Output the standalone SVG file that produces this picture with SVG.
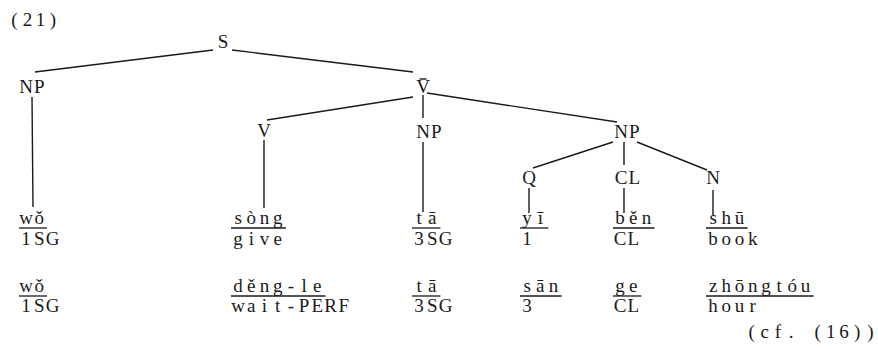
<svg xmlns="http://www.w3.org/2000/svg" width="878" height="349" viewBox="0 0 878 349">
  <style>
    /* typewriter look: every character is centred in its own 13.2px cell */
    text { font-family: "Liberation Serif", "Times New Roman", serif; font-size: 19px; fill: #1a1a1a; text-anchor: middle; }
    line { stroke: #1a1a1a; stroke-width: 1.4; }
    .ul { stroke-width: 1.3; }
  </style>

  <text x="14.5 27.5 40.5 53" y="26">(21)</text>

  <!-- connectors -->
  <g id="connectors">
    <line x1="213" y1="50" x2="35" y2="72"/>
    <line x1="232" y1="50" x2="413" y2="72"/>
    <line x1="32" y1="97" x2="33" y2="207"/>
    <line x1="413" y1="97" x2="267" y2="120"/>
    <line x1="423" y1="95" x2="423" y2="118"/>
    <line x1="427" y1="93" x2="617" y2="122"/>
    <line x1="264" y1="140" x2="264" y2="208"/>
    <line x1="423" y1="142" x2="423" y2="212"/>
    <line x1="613" y1="142" x2="533" y2="168"/>
    <line x1="624" y1="142" x2="624" y2="165"/>
    <line x1="637" y1="142" x2="707" y2="170"/>
    <line x1="529" y1="188" x2="529" y2="213"/>
    <line x1="624" y1="188" x2="624" y2="213"/>
    <line x1="713" y1="190" x2="713" y2="215"/>
  </g>

  <!-- tree nodes -->
  <g id="n-S"><text x="223" y="48">S</text></g>
  <g id="n-NP-subj"><text x="26.1 39.3" y="93">NP</text></g>
  <g id="n-Vbar"><text x="423" y="93">V</text><line x1="419.5" y1="79" x2="426.5" y2="79"/></g>
  <g id="n-V"><text x="264" y="137">V</text></g>
  <g id="n-NP-obj1"><text x="423.1 436.3" y="138">NP</text></g>
  <g id="n-NP-obj2"><text x="621.1 634.3" y="138">NP</text></g>
  <g id="n-Q"><text x="529" y="184">Q</text></g>
  <g id="n-CL"><text x="621.1 634.3" y="184">CL</text></g>
  <g id="n-N"><text x="713" y="184">N</text></g>

  <!-- first example: words and glosses -->
  <g id="ex1">
    <g id="w1-1"><text x="26.1 39.3" y="224">wǒ</text><line class="ul" x1="19" y1="228" x2="47" y2="228"/><text x="26.1 39.3 52.5" y="245">1SG</text></g>
    <g id="w1-2"><text x="238.1 251.3 264.5 277.7" y="224">sòng</text><line class="ul" x1="231" y1="228" x2="285.8" y2="228"/><text x="238.1 251.3 264.5 277.7" y="245">give</text></g>
    <g id="w1-3"><text x="419.1 432.3" y="224">tā</text><line class="ul" x1="412" y1="228" x2="440.4" y2="228"/><text x="419.1 432.3 445.5" y="245">3SG</text></g>
    <g id="w1-4"><text x="527.1 540.3" y="224">yī</text><line class="ul" x1="520" y1="228" x2="548.4" y2="228"/><text x="527.1" y="245">1</text></g>
    <g id="w1-5"><text x="620.1 633.3 646.5" y="224">běn</text><line class="ul" x1="613" y1="228" x2="654.6" y2="228"/><text x="620.1 633.3" y="245">CL</text></g>
    <g id="w1-6"><text x="713.1 726.3 739.5" y="224">shū</text><line class="ul" x1="706" y1="228" x2="747.6" y2="228"/><text x="713.1 726.3 739.5 752.7" y="245">book</text></g>
  </g>

  <!-- second example: words and glosses -->
  <g id="ex2">
    <g id="w2-1"><text x="26.1 39.3" y="292">wǒ</text><line class="ul" x1="19" y1="296" x2="47" y2="296"/><text x="26.1 39.3 52.5" y="312">1SG</text></g>
    <g id="w2-2"><text x="238.1 251.3 264.5 277.7 290.9 304.1 317.3" y="292">děng-le</text><line class="ul" x1="231" y1="296" x2="325.4" y2="296"/><text x="238.1 251.3 264.5 277.7 290.9 304.1 317.3 330.5 343.7" y="312">wait-PERF</text></g>
    <g id="w2-3"><text x="419.1 432.3" y="292">tā</text><line class="ul" x1="412" y1="296" x2="440.4" y2="296"/><text x="419.1 432.3 445.5" y="312">3SG</text></g>
    <g id="w2-4"><text x="527.1 540.3 553.5" y="292">sān</text><line class="ul" x1="520" y1="296" x2="561.6" y2="296"/><text x="527.1" y="312">3</text></g>
    <g id="w2-5"><text x="620.1 633.3" y="292">ge</text><line class="ul" x1="613" y1="296" x2="641.4" y2="296"/><text x="620.1 633.3" y="312">CL</text></g>
    <g id="w2-6"><text x="713.1 726.3 739.5 752.7 765.9 779.1 792.3 805.5" y="292">zhōngtóu</text><line class="ul" x1="706" y1="296" x2="813.6" y2="296"/><text x="713.1 726.3 739.5 752.7" y="312">hour</text></g>
  </g>

  <text x="751.6 764.8 778 791.2 804.4 817.6 830.8 844 857.2 870.4" y="338">(cf. (16))</text>
</svg>
